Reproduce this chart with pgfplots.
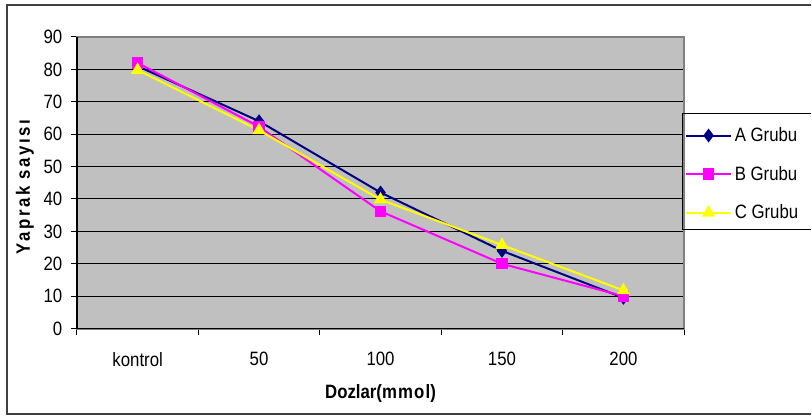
\documentclass[border=0pt]{standalone}
\usepackage{pgfplots}
\pgfplotsset{compat=1.18}
\usepackage{fontspec}
\setmainfont{Liberation Sans}[FakeStretch=0.87]
\definecolor{plotgray}{HTML}{C0C0C0}
\definecolor{navyA}{HTML}{000080}
\definecolor{magB}{HTML}{FF00FF}
\definecolor{yelC}{HTML}{FFFF00}
\newcommand{\chartfont}{\fontsize{14.5}{17}\selectfont}
\begin{document}
\begin{tikzpicture}[x=0.75pt,y=0.75pt]
\path (0,0) rectangle (812,417);
\draw[line width=1.5pt, draw=black!75] (812,412) -- (7,412) -- (7,2) -- (812,2);
\begin{axis}[
  at={(57.75pt,66pt)}, anchor=south west,
  scale only axis, width=456pt, height=219pt,
  xmin=0, xmax=5, ymin=0, ymax=90,
  xtick={0,1,2,3,4,5}, xticklabels={kontrol,50,100,150,200},
  x tick label as interval,
  ytick={0,10,...,90},
  xtick pos=bottom, ytick pos=left,
  tick align=outside, major tick length=4.5pt,
  tick style={black, line width=0.75pt},
  ymajorgrids, major grid style={black, line width=0.75pt},
  axis background/.style={fill=plotgray},
  axis line style={draw=gray, line width=1.5pt},
  /pgf/number format/assume math mode=true,
  tick label style={font=\chartfont},
  xticklabel style={yshift=-9.75pt},
  yticklabel style={xshift=-3pt},
  xlabel={Dozlar({\addfontfeature{LetterSpace=6}mmol})},
  ylabel={\addfontfeature{LetterSpace=13}Yaprak sayısı},
  every axis x label/.style={at={(axis description cs:0.5,-0.2226)}, anchor=center, font=\chartfont\bfseries},
  every axis y label/.style={at={(axis description cs:-0.0855,0.485)}, anchor=center, rotate=90, font=\chartfont\bfseries},
  legend style={at={(axis description cs:0.9967,0.736)}, anchor=north west,
    draw=none, fill=none, font=\chartfont, inner xsep=2pt, inner ysep=8pt,
    row sep=13pt},
  legend cell align=left,
  legend image code/.code={\draw[mark repeat=2,mark phase=2,#1] plot coordinates {(0pt,0pt) (16.9pt,0pt) (33.8pt,0pt)};},
]
\addplot[navyA, line width=1.5pt, mark=diamond*, mark size=4pt, mark options={fill=navyA, draw=navyA}]
  coordinates {(0.5,81) (1.5,64) (2.5,42) (3.5,24) (4.5,9.5)};
\addlegendentry{A Grubu}
\addplot[magB, line width=1.5pt, mark=square*, mark size=3.5pt, mark options={fill=magB, draw=magB}]
  coordinates {(0.5,82) (1.5,62.3) (2.5,36.2) (3.5,20) (4.5,10)};
\addlegendentry{B Grubu}
\addplot[yelC, line width=1.5pt, mark=triangle*, mark size=4.3pt, mark options={fill=yelC, draw=yelC}]
  coordinates {(0.5,79.8) (1.5,61.2) (2.5,39.8) (3.5,25.8) (4.5,11.8)};
\addlegendentry{C Grubu}
\end{axis}
\draw[black, line width=1pt] (77,417-37) -- (77,88) -- (685,88);
\draw[black, line width=0.75pt] (812,303) -- (683,303) -- (683,187) -- (812,187);
\end{tikzpicture}
\end{document}
